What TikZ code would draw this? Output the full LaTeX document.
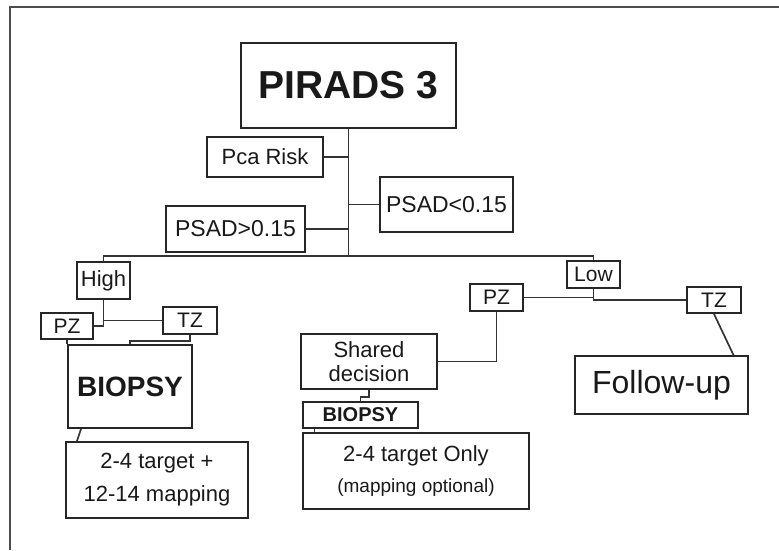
\documentclass[tikz,border=0pt]{standalone}
\usepackage{fontspec}
\setmainfont{Liberation Sans}
\usetikzlibrary{positioning}
\newcommand{\fsz}[2]{\fontsize{#1}{#2}\selectfont}
\begin{document}
\begin{tikzpicture}[x=1pt,y=-1pt,
    box/.style={draw=black!85,line width=1.9pt,inner sep=0pt,align=center,text=black!90},
    link/.style={draw=black!80,line width=1.7pt}]
      \useasboundingbox (0,0) rectangle (779,550);
      \draw[draw=black!70,line width=1.6pt] (10,550) -- (10,7) -- (779,7);
      \draw
        (348.5,85.5) node[box,minimum width=215,minimum height=85,font=\fsz{39}{44}\bfseries] (pirads){PIRADS 3}
        (265,157) node[box,minimum width=116,minimum height=40,font=\fsz{22}{24}] (risk){Pca Risk}
        (446.5,204.5) node[box,minimum width=133,minimum height=55,font=\fsz{23}{24}] (psadlo){PSAD<0.15}
        (235.5,229) node[box,minimum width=139,minimum height=46,font=\fsz{23}{24}] (psadhi){PSAD>0.15}
        (103.5,280.5) node[box,minimum width=53,minimum height=37,font=\fsz{22}{24}] (high){High}
        (593.5,274.5) node[box,minimum width=53,minimum height=27,font=\fsz{21}{24}] (low){Low}
        (67,326) node[box,minimum width=52,minimum height=26,font=\fsz{21}{22}] (pzl){PZ}
        (190,320.5) node[box,minimum width=54,minimum height=27,font=\fsz{21}{22}] (tzl){TZ}
        (130,386.5) node[box,minimum width=124,minimum height=83,font=\fsz{28}{32}\bfseries] (biopsy){BIOPSY}
        (157,480) node[box,minimum width=182,minimum height=76,font=\fsz{22}{33}] (mapping){2-4 target +\\12-14 mapping}
        (496.5,297.5) node[box,minimum width=53,minimum height=27,font=\fsz{21}{22}] (pzr){PZ}
        (714,300) node[box,minimum width=54,minimum height=26,font=\fsz{21}{22}] (tzr){TZ}
        (369,361.5) node[box,minimum width=136,minimum height=55,font=\fsz{22}{24}] (shared){Shared\\decision}
        (360.5,415) node[box,minimum width=115,minimum height=26,font=\fsz{20}{22}\bfseries] (biopsysm){BIOPSY}
        (416,471) node[box,minimum width=226,minimum height=76,font=\fsz{22}{31}] (target){2-4 target Only\\\fsz{19}{22}(mapping optional)}
        (661.5,385) node[box,minimum width=173,minimum height=58,font=\fsz{32}{34}] (followup){Follow-up};
      \coordinate (hub) at (348.5,256);
      \begin{scope}[link]
        \draw (pirads.south) to (hub);
        \draw (risk.east) to (risk.east -| hub);
        \draw (psadlo.west) to (psadlo.west -| hub);
        \draw (psadhi.east) to (psadhi.east -| hub);
        \draw (high.north) |- (hub) -| (low.north);
        \draw (high.south) |- (pzl.east);
        \draw (tzl.west) -| (high.south);
        \draw (pzl.south) to (pzl.south |- biopsy.north);
        \draw (tzl.south) -- ++(0,6) -| (biopsy.north);
        \draw ([xshift=-49pt]biopsy.south) to ([xshift=-80pt]mapping.north);
        \draw (pzr.east) -| (low.south);
        \draw (low.south) |- (tzr.west);
        \draw (pzr.south) |- (shared.east);
        \draw (shared.south) -- ++(0,7) -| (biopsysm.north);
        \draw ([xshift=-46pt]biopsysm.south) to ([xshift=-46pt]biopsysm.south |- target.north);
        \draw (tzr.south) to ([xshift=72pt]followup.north);
      \end{scope}
    \end{tikzpicture}
\end{document}
